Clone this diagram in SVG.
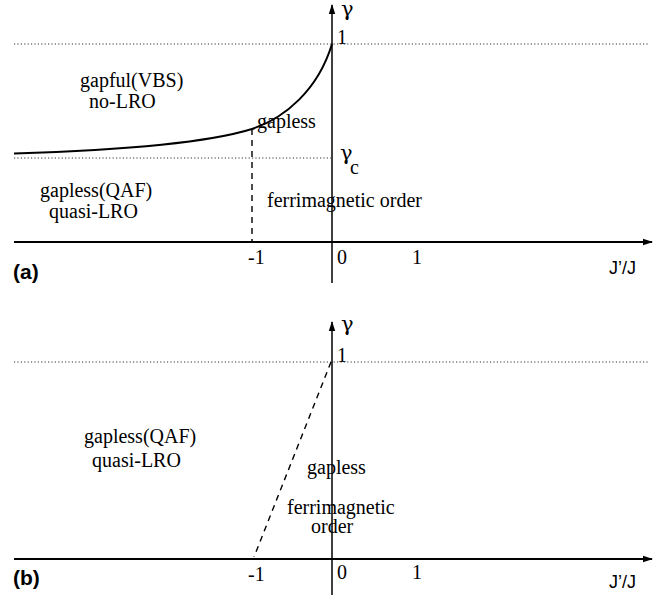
<svg xmlns="http://www.w3.org/2000/svg" width="670" height="599" viewBox="0 0 670 599">
<defs>
<marker id="ah" viewBox="0 0 10 8" refX="9" refY="4" markerWidth="10" markerHeight="8" markerUnits="userSpaceOnUse" orient="auto">
<path d="M0,0.8 L10,4 L0,7.2 Z" fill="#000"/>
</marker>
<style>
.ax{stroke:#000;stroke-width:2;fill:none}
.ay{stroke:#000;stroke-width:1.5;fill:none}
.dot{stroke:#333;stroke-width:1;stroke-dasharray:1.2,2.2;fill:none}
.dash{stroke:#000;stroke-width:1.4;stroke-dasharray:6,5;fill:none}
.crv{stroke:#000;stroke-width:2;fill:none}
.t{font-family:"Liberation Serif","Times New Roman",serif;font-size:20px;fill:#000}
.g{font-family:"DejaVu Serif","Liberation Serif",serif;font-size:21px;fill:#000}
.s{font-family:"Liberation Sans",Arial,sans-serif;font-size:18px;fill:#000}
.p{font-family:"Liberation Sans",Arial,sans-serif;font-size:21px;font-weight:bold;fill:#000}
</style>
</defs>
<rect width="670" height="599" fill="#fff"/>
<g id="panel-a">
<line class="dot" x1="14" y1="44" x2="649" y2="44"/>
<line class="dot" x1="14" y1="158" x2="331" y2="158"/>
<path class="crv" d="M14,153.5 C130,150 210,142 252,129 C285,118 318,90 332,44"/>
<line class="dash" x1="252" y1="129" x2="252" y2="242"/>
<line class="ax" x1="14" y1="242" x2="652" y2="242" marker-end="url(#ah)"/>
<line class="ay" x1="332" y1="283" x2="332" y2="5" marker-end="url(#ah)"/>
<text class="g" x="341" y="16">γ</text>
<text class="t" x="337" y="44">1</text>
<text class="t" x="80" y="87">gapful(VBS)</text>
<text class="t" x="89" y="108">no-LRO</text>
<text class="t" x="257" y="128">gapless</text>
<text class="g" x="340" y="160" font-size="27">γ</text>
<text class="t" x="350" y="174" font-size="26">c</text>
<text class="t" x="40" y="197">gapless(QAF)</text>
<text class="t" x="49" y="218">quasi-LRO</text>
<text class="t" x="267" y="207">ferrimagnetic order</text>
<text class="t" x="248" y="264">-1</text>
<text class="t" x="337" y="264">0</text>
<text class="t" x="412" y="264">1</text>
<text class="s" x="609" y="274">J’/J</text>
<text class="p" x="13" y="279">(a)</text>
</g>
<g id="panel-b">
<line class="dot" x1="14" y1="362" x2="649" y2="362"/>
<line class="dash" x1="331" y1="362" x2="254" y2="557"/>
<line class="ax" x1="14" y1="559" x2="652" y2="559" marker-end="url(#ah)"/>
<line class="ay" x1="332" y1="595" x2="332" y2="322" marker-end="url(#ah)"/>
<text class="g" x="341" y="331">γ</text>
<text class="t" x="337" y="362">1</text>
<text class="t" x="84" y="443">gapless(QAF)</text>
<text class="t" x="92" y="467">quasi-LRO</text>
<text class="t" x="307" y="474">gapless</text>
<text class="t" x="287" y="514">ferrimagnetic</text>
<text class="t" x="311" y="533">order</text>
<text class="t" x="248" y="581">-1</text>
<text class="t" x="337" y="579">0</text>
<text class="t" x="412" y="579">1</text>
<text class="s" x="609" y="588">J’/J</text>
<text class="p" x="13" y="585">(b)</text>
</g>
</svg>
